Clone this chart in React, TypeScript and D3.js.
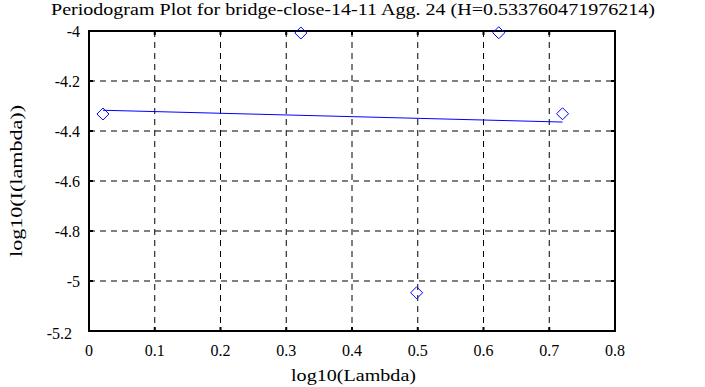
import React from "react";
import * as d3 from "d3";

const xValues = [0.0212, 0.3222, 0.4983, 0.6232, 0.7202];
const yValues = [-4.332, -4.008, -5.047, -4.007, -4.331];
const fitX = [0.0212, 0.7202];
const fitY = [-4.3170, -4.3642];
const xTicks = [0, 0.1, 0.2, 0.3, 0.4, 0.5, 0.6, 0.7, 0.8];
const yTicks = [-4, -4.2, -4.4, -4.6, -4.8, -5, -5.2];
const title = "Periodogram Plot for bridge-close-14-11 Agg. 24 (H=0.533760471976214)";

const W = 705, H = 387;
const L = 89, R = 615, T = 31, B = 331;

export default function App() {
  const x = d3.scaleLinear().domain([0, 0.8]).range([L, R]);
  const y = d3.scaleLinear().domain([-5.2, -4]).range([B, T]);
  const line = d3.line<number>().x((_, i) => x(fitX[i])).y((d) => y(d));
  const font = "'Liberation Serif', 'Times New Roman', serif";
  const ds = 6;
  return (
    <svg width={W} height={H} style={{ position: "absolute", left: 0, top: 0, background: "#fff" }}>
      <rect width={W} height={H} fill="#fff" />
      {xTicks.slice(1, -1).map((t) => (
        <line key={"gx" + t} x1={x(t)} x2={x(t)} y1={T} y2={B} stroke="#000" strokeWidth={1} strokeDasharray="6,5" />
      ))}
      {yTicks.slice(1, -1).map((t) => (
        <line key={"gy" + t} x1={L} x2={R} y1={y(t)} y2={y(t)} stroke="#000" strokeWidth={1} strokeDasharray="6,5" />
      ))}
      {xTicks.map((t) => (
        <g key={"tx" + t}>
          <line x1={x(t)} x2={x(t)} y1={B} y2={B - 4} stroke="#000" strokeWidth={2} />
          <line x1={x(t)} x2={x(t)} y1={T} y2={T + 4} stroke="#000" strokeWidth={2} />
          <text x={x(t)} y={356} textAnchor="middle" fontFamily={font} fontSize={16}>{String(t)}</text>
        </g>
      ))}
      {yTicks.map((t, i) => {
        const last = i === yTicks.length - 1;
        return (
          <g key={"ty" + t}>
            <line x1={L} x2={L + 4} y1={y(t)} y2={y(t)} stroke="#000" strokeWidth={2} />
            <line x1={R} x2={R - 4} y1={y(t)} y2={y(t)} stroke="#000" strokeWidth={2} />
            <text x={last ? 72 : 80} y={last ? y(t) + 8 : y(t) + 6} textAnchor="end" fontFamily={font} fontSize={16}>{String(t)}</text>
          </g>
        );
      })}
      <rect x={L} y={T} width={R - L} height={B - T} fill="none" stroke="#000" strokeWidth={2} />
      <path d={line(fitY) || ""} fill="none" stroke="#0000ff" strokeWidth={1} />
      {xValues.map((v, i) => {
        const cx = x(v), cy = y(yValues[i]);
        return (
          <path key={"p" + i} d={`M${cx - ds},${cy}L${cx},${cy - ds}L${cx + ds},${cy}L${cx},${cy + ds}Z`} fill="none" stroke="#0000ff" strokeWidth={1} />
        );
      })}
      <text x={51} y={15} fontFamily={font} fontSize={17} textLength={604} lengthAdjust="spacingAndGlyphs">{title}</text>
      <text x={291} y={381} fontFamily={font} fontSize={17} textLength={125} lengthAdjust="spacingAndGlyphs">log10(Lambda)</text>
      <text transform={`translate(22,${(T + B) / 2}) rotate(-90)`} textAnchor="middle" fontFamily={font} fontSize={17} textLength={152} lengthAdjust="spacingAndGlyphs">log10(I(lambda))</text>
    </svg>
  );
}
